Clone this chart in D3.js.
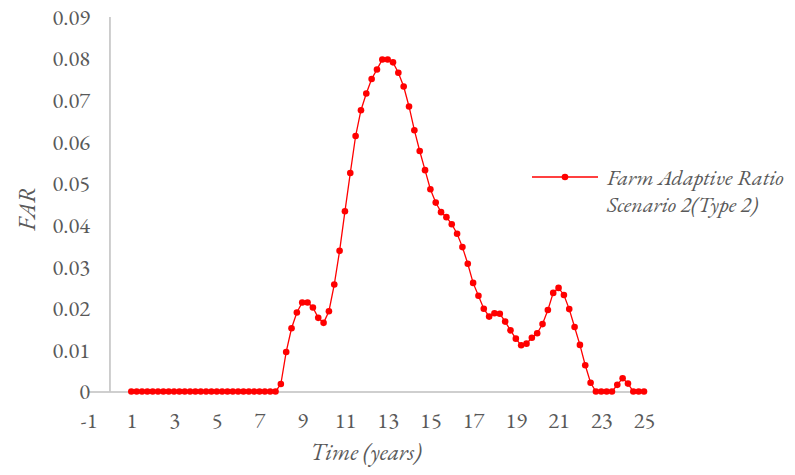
<!DOCTYPE html>
<html>
<head>
<meta charset="utf-8">
<script src="https://cdn.jsdelivr.net/npm/d3@7"></script>
<style>
  html, body { margin: 0; padding: 0; background: #fff; }
  svg { display: block; }
</style>
</head>
<body>
<svg id="chart" width="795" height="475"></svg>
<script>
// Time steps (years)
const years = [
  1, 1.25, 1.5, 1.75, 2, 2.25, 2.5, 2.75, 3, 3.25, 3.5, 3.75, 4, 4.25, 4.5, 4.75,
  5, 5.25, 5.5, 5.75, 6, 6.25, 6.5, 6.75, 7, 7.25, 7.5, 7.75, 8, 8.25, 8.5, 8.75,
  9, 9.25, 9.5, 9.75, 10, 10.25, 10.5, 10.75, 11, 11.25, 11.5, 11.75, 12, 12.25, 12.5, 12.75,
  13, 13.25, 13.5, 13.75, 14, 14.25, 14.5, 14.75, 15, 15.25, 15.5, 15.75, 16, 16.25, 16.5, 16.75,
  17, 17.25, 17.5, 17.75, 18, 18.25, 18.5, 18.75, 19, 19.25, 19.5, 19.75, 20, 20.25, 20.5, 20.75,
  21, 21.25, 21.5, 21.75, 22, 22.25, 22.5, 22.75, 23, 23.25, 23.5, 23.75, 24, 24.25, 24.5, 24.75, 25
];

// Farm Adaptive Ratio, Scenario 2 (Type 2)
const farValues = [
  0, 0, 0, 0, 0, 0, 0, 0, 0, 0, 0, 0, 0, 0, 0, 0,
  0, 0, 0, 0, 0, 0, 0, 0, 0, 0, 0, 0, 0.0018, 0.0095, 0.0152, 0.0190,
  0.0214, 0.0214, 0.0202, 0.0177, 0.0165, 0.0193, 0.0257, 0.0338, 0.0433, 0.0525, 0.0614, 0.0676, 0.0716, 0.0751, 0.0774, 0.0798,
  0.0798, 0.0791, 0.0766, 0.0733, 0.0685, 0.0628, 0.0578, 0.0532, 0.0486, 0.0454, 0.0431, 0.0419, 0.0402, 0.0379, 0.0347, 0.0307,
  0.0261, 0.0230, 0.0199, 0.0180, 0.0188, 0.0187, 0.0168, 0.0147, 0.0127, 0.0111, 0.0115, 0.0129, 0.0140, 0.0162, 0.0196, 0.0237,
  0.0249, 0.0232, 0.0198, 0.0155, 0.0112, 0.0063, 0.0021, 0, 0, 0, 0, 0.0016, 0.0032, 0.0019, 0, 0, 0
];

const xTicks = [-1, 1, 3, 5, 7, 9, 11, 13, 15, 17, 19, 21, 23, 25];
const yTicks = [0, 0.01, 0.02, 0.03, 0.04, 0.05, 0.06, 0.07, 0.08, 0.09];
const seriesName = ["Farm Adaptive Ratio", "Scenario 2(Type 2)"];

const FONT = "Garamond, 'EB Garamond', 'Liberation Serif', Tinos, 'Noto Serif', 'Times New Roman', Times, FreeSerif, 'DejaVu Serif', serif";
const TEXT_COLOR = "#595959";

const svg = d3.select("#chart");

const x = d3.scaleLinear().domain([-1, 25]).range([88.6, 644]);
const y = d3.scaleLinear().domain([0, 0.09]).range([391.5, 17]);

const axisColor = "#bfbfbf";

// horizontal axis line (no tick marks); plain hyphen for negatives
const xAxis = d3.axisBottom(x).tickValues(xTicks).tickSize(0).tickPadding(21)
  .tickFormat(d => String(d));
const gx = svg.append("g").attr("transform", `translate(0,${y(0)})`).call(xAxis);
gx.attr("font-family", null).attr("font-size", null);
gx.select(".domain").attr("stroke", axisColor).attr("stroke-width", 1.5);
gx.selectAll("text")
  .style("font-family", FONT).style("font-size", "22.5px").style("fill", TEXT_COLOR);

// vertical axis line sits at x = 0, labels on the left edge of the plot
svg.append("line")
  .attr("x1", x(0)).attr("x2", x(0))
  .attr("y1", y(0.09)).attr("y2", y(0))
  .attr("stroke", axisColor).attr("stroke-width", 1.5);

svg.append("g").selectAll("text").data(yTicks).join("text")
  .attr("x", 90)
  .attr("y", d => y(d))
  .attr("dy", "0.35em")
  .attr("text-anchor", "end")
  .style("font-family", FONT).style("font-size", "22.5px").style("fill", TEXT_COLOR)
  .text(d => d === 0 ? "0" : d3.format(".2f")(d));

// series line and markers
const line = d3.line().x((d, i) => x(years[i])).y(d => y(d));
svg.append("path")
  .datum(farValues)
  .attr("fill", "none")
  .attr("stroke", "#ff0000")
  .attr("stroke-width", 1.3)
  .attr("d", line);

svg.append("g").selectAll("circle").data(farValues).join("circle")
  .attr("cx", (d, i) => x(years[i]))
  .attr("cy", d => y(d))
  .attr("r", 3.3)
  .attr("fill", "#ff0000");

// axis titles
svg.append("text")
  .attr("x", 366).attr("y", 460)
  .attr("text-anchor", "middle")
  .style("font-family", FONT).style("font-size", "23.5px").style("font-style", "italic")
  .style("fill", TEXT_COLOR)
  .text("Time (years)");

svg.append("text")
  .attr("transform", "translate(35,209) rotate(-90)")
  .attr("text-anchor", "middle")
  .style("font-family", FONT).style("font-size", "23.5px").style("font-style", "italic")
  .style("fill", TEXT_COLOR)
  .text("FAR");

// legend
const lg = svg.append("g");
lg.append("line").attr("x1", 532).attr("x2", 598).attr("y1", 177).attr("y2", 177)
  .attr("stroke", "#ff0000").attr("stroke-width", 1.3);
lg.append("circle").attr("cx", 565).attr("cy", 177).attr("r", 3.3).attr("fill", "#ff0000");
lg.selectAll("text.lbl").data(seriesName).join("text")
  .attr("class", "lbl")
  .attr("x", 607)
  .attr("y", (d, i) => 185 + i * 27)
  .style("font-family", FONT).style("font-size", "22px").style("font-style", "italic")
  .style("fill", TEXT_COLOR)
  .text(d => d);
</script>
</body>
</html>
